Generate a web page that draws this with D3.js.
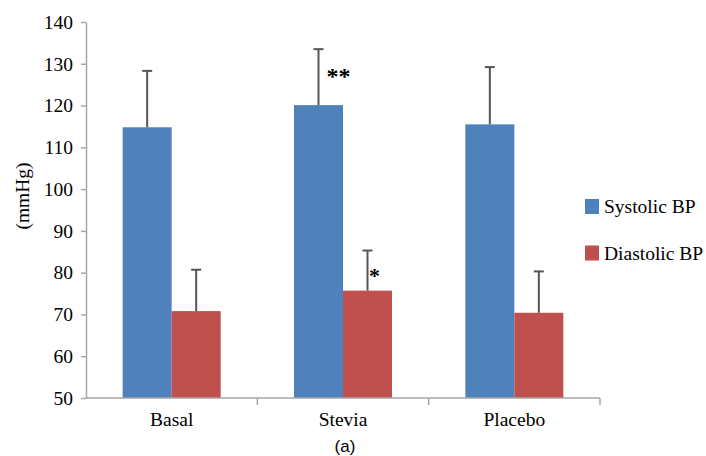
<!DOCTYPE html>
<html><head><meta charset="utf-8">
<script src="https://cdn.jsdelivr.net/npm/d3@7"></script>
<style>body{margin:0;background:#fff}svg{display:block}</style>
</head><body>
<script>
const categories = ["Basal", "Stevia", "Placebo"];
const seriesNames = ["Systolic BP", "Diastolic BP"];
const systolic = [114.8, 120.1, 115.5];
const systolicErr = [13.5, 13.4, 13.7];
const diastolic = [70.8, 75.7, 70.4];
const diastolicErr = [9.9, 9.6, 9.9];
const yTicks = [50, 60, 70, 80, 90, 100, 110, 120, 130, 140];
const annotations = [
  {cat: "Stevia", series: 0, text: "**"},
  {cat: "Stevia", series: 1, text: "*"}
];

const W = 706, H = 456;
const colors = ["#4f81bd", "#c0504d"];
const serif = "'Liberation Serif','Times New Roman',serif";

const svg = d3.select("body").append("svg").attr("width", W).attr("height", H);

const x0 = d3.scaleBand().domain(categories).range([86, 600]).paddingInner(0.428).paddingOuter(0.214);
const x1 = d3.scaleBand().domain([0, 1]).range([0, x0.bandwidth()]);
const y = d3.scaleLinear().domain([50, 140]).range([398, 22]);

const data = categories.map((c, i) => ({
  cat: c,
  vals: [
    {s: 0, v: systolic[i], e: systolicErr[i]},
    {s: 1, v: diastolic[i], e: diastolicErr[i]}
  ]
}));

// bars
const g = svg.append("g");
const groups = g.selectAll("g.cat").data(data).join("g")
  .attr("transform", d => `translate(${x0(d.cat)},0)`);
groups.selectAll("rect").data(d => d.vals).join("rect")
  .attr("x", d => x1(d.s))
  .attr("width", x1.bandwidth())
  .attr("y", d => y(d.v))
  .attr("height", d => y(50) - y(d.v))
  .attr("fill", d => colors[d.s]);

// error bars
groups.selectAll("line.err").data(d => d.vals).join("line")
  .attr("class", "err")
  .attr("x1", d => x1(d.s) + x1.bandwidth() / 2)
  .attr("x2", d => x1(d.s) + x1.bandwidth() / 2)
  .attr("y1", d => y(d.v))
  .attr("y2", d => y(d.v + d.e))
  .attr("stroke", "#555").attr("stroke-width", 2);
groups.selectAll("line.cap").data(d => d.vals).join("line")
  .attr("class", "cap")
  .attr("x1", d => x1(d.s) + x1.bandwidth() / 2 - 5)
  .attr("x2", d => x1(d.s) + x1.bandwidth() / 2 + 5)
  .attr("y1", d => y(d.v + d.e))
  .attr("y2", d => y(d.v + d.e))
  .attr("stroke", "#555").attr("stroke-width", 2);

// y axis
const yAxis = svg.append("g").attr("transform", "translate(86,0)")
  .call(d3.axisLeft(y).tickValues(yTicks).tickSize(5).tickSizeOuter(0).tickPadding(8));
yAxis.selectAll("path,line").attr("stroke", "#a6a6a6").attr("stroke-width", 1.5);
yAxis.selectAll("text").attr("font-family", serif).attr("font-size", "19.5px").attr("fill", "#000");

// x axis
const xAxisG = svg.append("g");
xAxisG.append("line").attr("x1", 86).attr("x2", 600).attr("y1", y(50)).attr("y2", y(50))
  .attr("stroke", "#a6a6a6").attr("stroke-width", 1.5);
const step = x0.step();
const bounds = [86].concat(categories.map(c => x0(c) - x0.paddingOuter() * step + step));
xAxisG.selectAll("line.tk").data(bounds.slice(1)).join("line").attr("class", "tk")
  .attr("x1", d => d).attr("x2", d => d).attr("y1", y(50)).attr("y2", y(50) + 7)
  .attr("stroke", "#a6a6a6").attr("stroke-width", 1.5);
xAxisG.selectAll("text").data(categories).join("text")
  .attr("x", d => x0(d) + x0.bandwidth() / 2).attr("y", 426)
  .attr("text-anchor", "middle").attr("font-family", serif).attr("font-size", "19.5px")
  .text(d => d);

// y label
svg.append("text").attr("transform", "translate(29,196) rotate(-90)")
  .attr("text-anchor", "middle").attr("font-family", serif).attr("font-size", "19.5px")
  .text("(mmHg)");

// annotations
annotations.forEach(a => {
  const i = categories.indexOf(a.cat);
  const v = a.series === 0 ? systolic[i] + systolicErr[i] : diastolic[i] + diastolicErr[i];
  const cx = x0(a.cat) + x1(a.series) + x1.bandwidth() / 2;
  svg.append("text")
    .attr("x", cx + (a.series === 0 ? 20 : 7))
    .attr("y", y(v) + (a.series === 0 ? 35 : 32))
    .attr("text-anchor", "middle")
    .attr("font-family", serif).attr("font-weight", "bold")
    .attr("font-size", a.series === 0 ? "24px" : "22px")
    .text(a.text);
});

// legend
const leg = svg.append("g");
seriesNames.forEach((s, i) => {
  const yy = 199 + i * 46.5;
  leg.append("rect").attr("x", 585).attr("y", yy).attr("width", 14).attr("height", 15).attr("fill", colors[i]);
  leg.append("text").attr("x", 604).attr("y", yy + 14).attr("font-family", serif).attr("font-size", "19.5px").text(s);
});

// caption
svg.append("text").attr("x", 345).attr("y", 452).attr("text-anchor", "middle")
  .attr("font-family", "'Liberation Sans',Arial,sans-serif").attr("font-size", "17px").text("(a)");
</script>
</body></html>
